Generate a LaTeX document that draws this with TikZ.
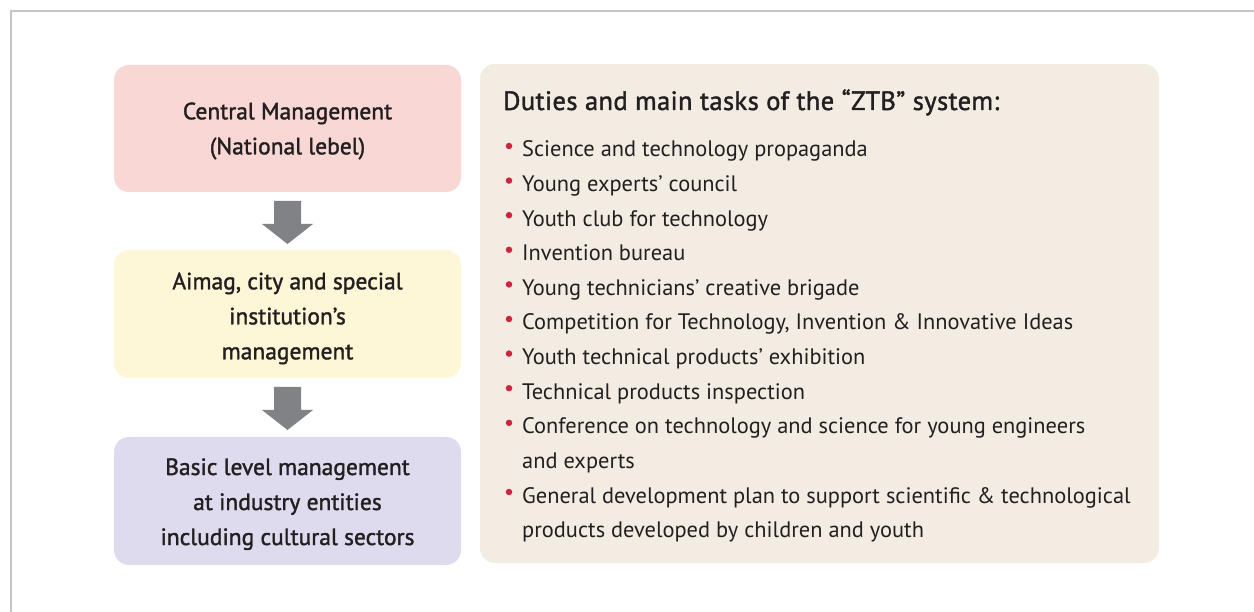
\documentclass[tikz,border=0pt]{standalone}
\usepackage{fontspec}
\setmainfont{PT Sans}
\newfontfamily\medfont{PT Sans}[FakeBold=1.5]
\newfontfamily\titlefont{PT Sans}[FakeBold=1.5, LetterSpace=1.5]
\definecolor{framegray}{HTML}{C4C4C8}
\definecolor{pinkbox}{HTML}{F8D7D4}
\definecolor{yellowbox}{HTML}{FEF7D7}
\definecolor{lavbox}{HTML}{DFDBEF}
\definecolor{beigebox}{HTML}{F3ECE3}
\definecolor{arrowgray}{HTML}{808285}
\definecolor{bulletred}{HTML}{D2233C}
\definecolor{textdark}{HTML}{231F20}
\tikzset{
  levelbox/.style={rounded corners=15pt, draw=none},
  leveltext/.style={align=center, font=\medfont\fontsize{23.5}{35}\selectfont, text=textdark, inner sep=0pt},
  itemtext/.style={anchor=base west, font=\fontsize{22.4}{26}\selectfont, text=textdark, inner sep=0pt},
  bulletdot/.style={circle, fill=bulletred, minimum size=6.5pt, inner sep=0pt},
  downarrow/.style={fill=arrowgray, draw=none}
}
\begin{document}
\begin{tikzpicture}[x=1pt,y=-1pt]
\useasboundingbox (0,0) rectangle (1254,612);
% frame
\draw[framegray, line width=2pt] (11,612) -- (11,11) -- (1254,11);
% boxes
\fill[levelbox, pinkbox] (114,65) rectangle (461,192);
\fill[levelbox, yellowbox] (114,250) rectangle (461,378);
\fill[levelbox, lavbox] (114,437) rectangle (461,565);
\fill[levelbox, beigebox] (480,64) rectangle (1159,563);
% level texts (base anchor = last line)
\node[leveltext, anchor=base] (l1) at (287.5,154.3) {Central Management\\(National lebel)};
\node[leveltext, anchor=base] (l2) at (287.5,359.3) {Aimag, city and special\\institution’s\\management};
\node[leveltext, anchor=base] (l3) at (287.5,545) {Basic level management\\at industry entities\\including cultural sectors};
% arrows
\fill[downarrow] (274,201) -- (301,201) -- (301,224) -- (313,224) -- (287.5,244) -- (262,224) -- (274,224) -- cycle;
\fill[downarrow] (274,387) -- (301,387) -- (301,410) -- (313,410) -- (287.5,430) -- (262,410) -- (274,410) -- cycle;
% title
\node[anchor=base west, inner sep=0pt, text=textdark, font=\titlefont\fontsize{26.5}{28}\selectfont] (title) at (503,110) {Duties and main tasks of the “ZTB” system:};
% items
\foreach \i/\t in {0/Science and technology propaganda,
  1/Young experts’ council,
  2/Youth club for technology,
  3/Invention bureau,
  4/Young technicians’ creative brigade,
  5/{Competition for Technology, Invention \& Innovative Ideas},
  6/Youth technical products’ exhibition,
  7/Technical products inspection,
  8/Conference on technology and science for young engineers,
  10/General development plan to support scientific \& technological}{
  \node[bulletdot] (b\i) at (509,{146+34.6*\i}) {};
  \node[itemtext] (t\i) at (522,{157+34.6*\i}) {\t};
}
\node[itemtext] (t9) at (522,{157+34.6*9}) {and experts};
\node[itemtext] (t11) at (522,{157+34.6*11}) {products developed by children and youth};
\end{tikzpicture}
\end{document}
